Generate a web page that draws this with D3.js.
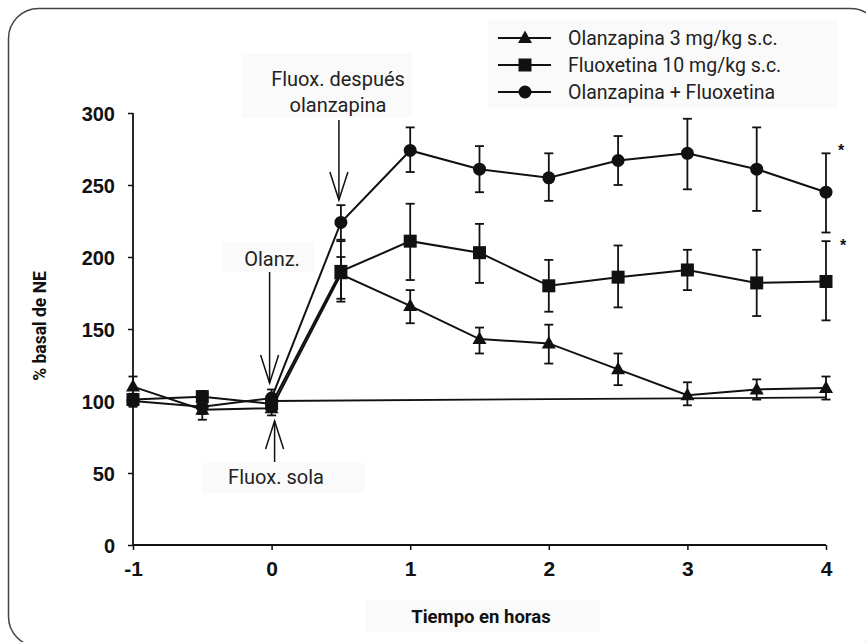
<!DOCTYPE html>
<html><head><meta charset="utf-8">
<script src="https://cdn.jsdelivr.net/npm/d3@7"></script>
<style>
body{margin:0;background:#fff;}
svg{display:block;}
</style></head>
<body>
<svg id="chart" width="866" height="642"></svg>
<script>
// ---- Data ----
const times = [-1, -0.5, 0, 0.5, 1, 1.5, 2, 2.5, 3, 3.5, 4];
const olanzValues   = [110, 94, 95, 188, 166, 143, 140, 122, 104, 108, 109];
const olanzErrLow   = [104, 87, 90, 169, 154, 133, 126, 111, 97, 101, 101];
const olanzErrHigh  = [117, 101, 100, 200, 177, 151, 153, 133, 113, 115, 117];
const fluoxValues   = [101, 103, 98, 190, 211, 203, 180, 186, 191, 182, 183];
const fluoxErrLow   = [97, 99, 93, 171, 184, 182, 162, 165, 177, 159, 156];
const fluoxErrHigh  = [105, 107, 103, 211, 237, 223, 198, 208, 205, 205, 211];
const comboValues   = [100, 96, 102, 224, 274, 261, 255, 267, 272, 261, 245];
const comboErrLow   = [96, 91, 96, 212, 259, 245, 239, 250, 247, 232, 217];
const comboErrHigh  = [104, 101, 108, 236, 290, 277, 272, 284, 296, 290, 272];
const controlTimes  = [0, 4];
const controlValues = [100, 102.5];
const seriesNames = ["Olanzapina 3 mg/kg s.c.", "Fluoxetina 10 mg/kg s.c.", "Olanzapina + Fluoxetina"];
const xTicks = [-1, 0, 1, 2, 3, 4];
const yTicks = [0, 50, 100, 150, 200, 250, 300];
const xTitle = "Tiempo en horas";
const yTitle = "% basal de NE";

const svg = d3.select("#chart");
const x = d3.scaleLinear().domain([-1, 4]).range([133, 826]);
const y = d3.scaleLinear().domain([0, 300]).range([545, 113]);
const ink = "#111";
const labelFont = "Roboto, 'Liberation Sans Narrow', sans-serif";
const boldFont = "'Liberation Sans', Arial, sans-serif";

// frame
svg.append("rect").attr("x", 8.5).attr("y", 8.5).attr("width", 872).attr("height", 638)
  .attr("rx", 30).attr("fill", "none").attr("stroke", "#444").attr("stroke-width", 1.5);

// Faint label boxes
function box(x0, y0, w, h) {
  svg.append("rect").attr("x", x0).attr("y", y0).attr("width", w).attr("height", h).attr("fill", "#fafafa");
}
box(488, 20, 350, 88);
box(242, 53, 170, 65);
box(222, 242, 93, 30);
box(202, 463, 163, 30);
box(365, 600, 235, 32);

// Axes
const fmt = d => String(d);
const yAxis = d3.axisLeft(y).tickValues(yTicks).tickSize(5).tickPadding(13).tickFormat(fmt);
const gy = svg.append("g").attr("transform", `translate(${x(-1)},0)`).call(yAxis);
gy.select(".domain").attr("stroke", ink).attr("stroke-width", 1.8).attr("d", `M0,${y(300)}V${y(0)}`);
gy.selectAll(".tick line").attr("stroke", ink).attr("stroke-width", 1.5);
gy.selectAll(".tick text").attr("font-family", boldFont).attr("font-weight", "bold")
  .attr("font-size", 20).attr("fill", ink).attr("dy", "0.36em");

const xAxis = d3.axisBottom(x).tickValues(xTicks).tickSize(5).tickPadding(10).tickFormat(fmt);
const gx = svg.append("g").attr("transform", `translate(0,${y(0)})`).call(xAxis);
gx.select(".domain").attr("stroke", ink).attr("stroke-width", 1.8).attr("d", `M${x(-1)},0H${x(4)}`);
gx.selectAll(".tick line").attr("stroke", ink).attr("stroke-width", 1.5);
gx.selectAll(".tick text").attr("font-family", boldFont).attr("font-weight", "bold")
  .attr("font-size", 21).attr("fill", ink).attr("dy", "0.75em");

// axis titles
svg.append("text").attr("x", 481).attr("y", 623).attr("text-anchor", "middle")
  .attr("font-family", labelFont).attr("font-weight", "bold").attr("font-size", 18.5)
  .attr("fill", ink).text(xTitle);
svg.append("text").attr("transform", "translate(46,326) rotate(-90)").attr("text-anchor", "middle")
  .attr("font-family", labelFont).attr("font-weight", "bold").attr("font-size", 17.5)
  .attr("fill", ink).text(yTitle);

// control line
const line = d3.line().x(d => x(d[0])).y(d => y(d[1]));
svg.append("path").datum(controlTimes.map((t, i) => [t, controlValues[i]]))
  .attr("d", line).attr("fill", "none").attr("stroke", ink).attr("stroke-width", 1.8);

// series
const series = [
  {name: seriesNames[0], v: olanzValues, lo: olanzErrLow, hi: olanzErrHigh, shape: "triangle"},
  {name: seriesNames[1], v: fluoxValues, lo: fluoxErrLow, hi: fluoxErrHigh, shape: "square"},
  {name: seriesNames[2], v: comboValues, lo: comboErrLow, hi: comboErrHigh, shape: "circle"}
];
function marker(g, shape, cx, cy) {
  if (shape === "circle") g.append("circle").attr("cx", cx).attr("cy", cy).attr("r", 6.5).attr("fill", ink);
  else if (shape === "square") g.append("rect").attr("x", cx - 6.5).attr("y", cy - 6.5).attr("width", 13).attr("height", 13).attr("fill", ink);
  else g.append("path").attr("d", `M${cx},${cy - 7.5}L${cx + 7},${cy + 5}L${cx - 7},${cy + 5}Z`).attr("fill", ink);
}
series.forEach(s => {
  const g = svg.append("g");
  const pts = times.map((t, i) => [t, s.v[i]]);
  g.append("path").datum(pts).attr("d", line).attr("fill", "none").attr("stroke", ink).attr("stroke-width", 2);
  times.forEach((t, i) => {
    const cx = x(t);
    g.append("line").attr("x1", cx).attr("x2", cx).attr("y1", y(s.lo[i])).attr("y2", y(s.hi[i]))
      .attr("stroke", ink).attr("stroke-width", 1.8);
    [s.lo[i], s.hi[i]].forEach(v => g.append("line").attr("x1", cx - 4.5).attr("x2", cx + 4.5)
      .attr("y1", y(v)).attr("y2", y(v)).attr("stroke", ink).attr("stroke-width", 1.8));
    marker(g, s.shape, cx, y(s.v[i]));
  });
});

// asterisks
svg.append("text").attr("x", 841).attr("y", 156).attr("text-anchor", "middle").attr("font-family", boldFont)
  .attr("font-weight", "bold").attr("font-size", 16).attr("fill", ink).text("*");
svg.append("text").attr("x", 843).attr("y", 251).attr("text-anchor", "middle").attr("font-family", boldFont)
  .attr("font-weight", "bold").attr("font-size", 16).attr("fill", ink).text("*");

// annotation arrows
function arrow(xc, yFrom, yTip) {
  const dir = yTip > yFrom ? 1 : -1;
  svg.append("line").attr("x1", xc).attr("x2", xc).attr("y1", yFrom).attr("y2", yTip)
    .attr("stroke", ink).attr("stroke-width", 1.5);
  svg.append("path").attr("d", `M${xc - 9},${yTip - dir * 28}L${xc},${yTip}L${xc + 9},${yTip - dir * 28}`)
    .attr("fill", "none").attr("stroke", ink).attr("stroke-width", 1.5);
}
arrow(x(0.5) - 2, 120, 200);
arrow(x(0) - 2, 272, 383);
arrow(x(0) + 3, 462, 421);

function label(xc, yb, txt) {
  svg.append("text").attr("x", xc).attr("y", yb).attr("text-anchor", "middle")
    .attr("font-family", labelFont).attr("font-size", 20).attr("fill", "#222").text(txt);
}
label(338, 86, "Fluox. después");
label(338, 112, "olanzapina");
label(272, 266, "Olanz.");
label(276, 484, "Fluox. sola");

// legend
const legendRows = [38, 65, 92];
series.forEach((s, i) => {
  const ly = legendRows[i];
  svg.append("line").attr("x1", 498).attr("x2", 551).attr("y1", ly).attr("y2", ly)
    .attr("stroke", ink).attr("stroke-width", 2);
  marker(svg, s.shape, 525, ly);
  svg.append("text").attr("x", 568).attr("y", ly + 7).attr("font-family", labelFont)
    .attr("font-size", 19.5).attr("fill", "#222").text(s.name);
});
</script>
</body></html>
